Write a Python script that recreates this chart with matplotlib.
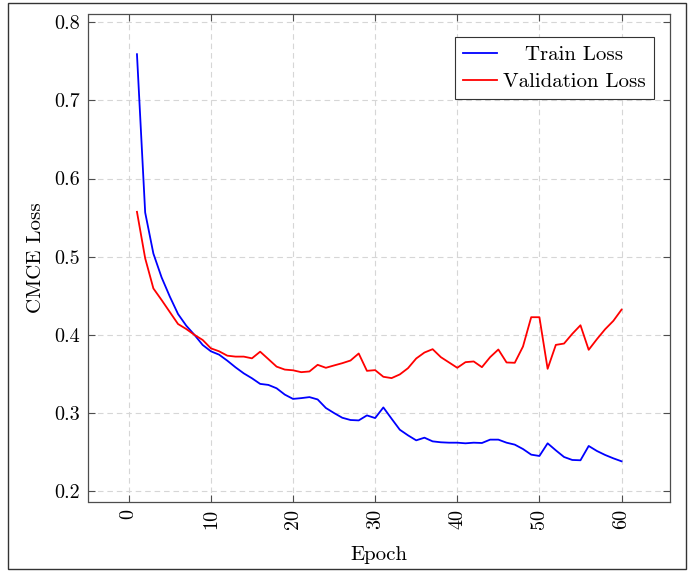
import matplotlib
matplotlib.use("Agg")
import matplotlib.pyplot as plt
from matplotlib.patches import Rectangle

epochs = list(range(1, 61))
train_loss = [0.759, 0.5565, 0.504, 0.4735, 0.449, 0.4267, 0.4118, 0.4, 0.3871, 0.379,
              0.3747, 0.367, 0.3585, 0.3508, 0.3445, 0.3373, 0.336, 0.3317, 0.3236, 0.3181,
              0.3191, 0.3204, 0.3174, 0.3065, 0.3, 0.294, 0.2911, 0.2906, 0.297, 0.2936,
              0.3072, 0.2928, 0.2787, 0.2715, 0.2651, 0.2685, 0.2638, 0.2626, 0.2621, 0.2621,
              0.2613, 0.2621, 0.2617, 0.266, 0.266, 0.2621, 0.2596, 0.254, 0.2468, 0.2451,
              0.2613, 0.2523, 0.2438, 0.24, 0.2396, 0.2579, 0.2515, 0.2464, 0.2421, 0.2383]
val_loss = [0.5574, 0.498, 0.4594, 0.4446, 0.4292, 0.4139, 0.4075, 0.4, 0.3935, 0.3828,
            0.379, 0.3734, 0.3722, 0.3722, 0.370, 0.3785, 0.369, 0.3594, 0.3556, 0.3547,
            0.3523, 0.3532, 0.3617, 0.3579, 0.3609, 0.3638, 0.3672, 0.3762, 0.354, 0.3549,
            0.3464, 0.3447, 0.3494, 0.3574, 0.3698, 0.3774, 0.3817, 0.3715, 0.3647, 0.3579,
            0.3651, 0.366, 0.3587, 0.3715, 0.3813, 0.3647, 0.3643, 0.3851, 0.4226, 0.4226,
            0.3566, 0.3872, 0.3889, 0.4013, 0.4123, 0.3809, 0.3945, 0.4072, 0.4179, 0.4323]
x_ticks = [0, 10, 20, 30, 40, 50, 60]
y_ticks = [0.2, 0.3, 0.4, 0.5, 0.6, 0.7, 0.8]
series_labels = ["Train Loss", "Validation Loss"]

plt.rcParams['font.family'] = ['cmr10', 'DejaVu Serif']
plt.rcParams['axes.unicode_minus'] = False
plt.rcParams['axes.formatter.use_mathtext'] = True

fig = plt.figure(figsize=(6.94, 5.72), dpi=100)
ax = fig.add_axes([88.5 / 694, 1 - 502 / 572, (670 - 88.5) / 694, (502 - 13.5) / 572])

ax.plot(epochs, train_loss, color=(0, 0, 1), lw=1.3, label=series_labels[0])
ax.plot(epochs, val_loss, color=(1, 0, 0), lw=1.3, label=series_labels[1])

xr = max(epochs) - min(epochs)
ax.set_xlim(min(epochs) - 0.1 * xr, max(epochs) + 0.1 * xr)
all_y = train_loss + val_loss
yr = max(all_y) - min(all_y)
ax.set_ylim(min(all_y) - 0.1 * yr, max(all_y) + 0.1 * yr)

ax.set_xticks(x_ticks)
ax.set_xticklabels([str(t) for t in x_ticks], rotation=90)
ax.set_yticks(y_ticks)
ax.set_yticklabels([f"{t:.1f}" for t in y_ticks])

ax.grid(True, color='#d6d6d6', linestyle=(0, (5, 3.5)), linewidth=0.8)
ax.set_axisbelow(True)
for s in ax.spines.values():
    s.set_color('#4d4d4d')
    s.set_linewidth(0.9)
ax.tick_params(direction='in', top=True, right=True, length=4.8, width=0.8,
               color='#4d4d4d', labelsize=14.5)
ax.tick_params(axis='x', pad=5)
ax.tick_params(axis='y', pad=6)

ax.set_xlabel("Epoch", fontsize=15, labelpad=12)
ax.set_ylabel("CMCE Loss", fontsize=15, labelpad=7)

leg = ax.legend(loc='upper right', bbox_to_anchor=(0.9725, 0.9513), borderaxespad=0,
                fancybox=False, framealpha=1, edgecolor='#333333', fontsize=15,
                handlelength=1.6, handletextpad=0.3, labelspacing=0.4, borderpad=0.4)
leg.get_frame().set_linewidth(0.8)

fig.patches.append(Rectangle((8 / 694, 1 - 569 / 572), (686 - 8) / 694, (569 - 3) / 572,
                             transform=fig.transFigure, fill=False,
                             edgecolor='#333333', linewidth=1.0))

# center the legend texts in their column
fig.canvas.draw()
r = fig.canvas.get_renderer()
texts = leg.get_texts()
widths = [t.get_window_extent(r).width for t in texts]
wmax = max(widths)
for t, w in zip(texts, widths):
    t.set_x(t.get_position()[0] + (wmax - w) / 2)

fig.savefig("out.png", dpi=100)
